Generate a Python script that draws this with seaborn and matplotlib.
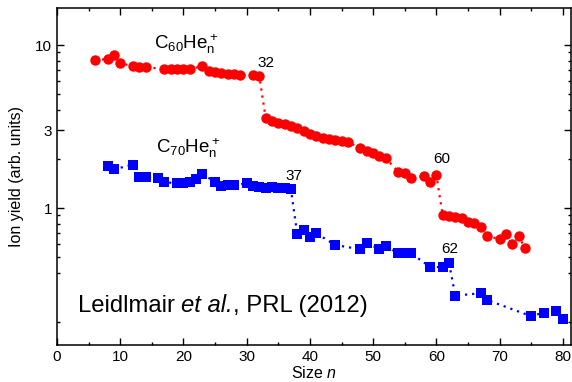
import numpy as np
import pandas as pd
import matplotlib
matplotlib.use("Agg")
import matplotlib.pyplot as plt
from matplotlib.ticker import FixedLocator, NullFormatter, FixedFormatter, MultipleLocator
import seaborn as sns

# C60He_n+ data
c60_n = [6, 8, 9, 10, 12, 13, 14, 17, 18, 19, 20, 21, 23, 24, 25, 26, 27, 28, 29, 31, 32,
         33, 34, 35, 36, 37, 38, 39, 40, 41, 42, 43, 44, 45, 46, 48, 49, 50, 51, 52,
         54, 55, 56, 58, 59, 60,
         61, 62, 63, 64, 65, 66, 67, 68, 70, 71, 72, 73, 74]
c60_y = [8.08, 8.20, 8.67, 7.74, 7.42, 7.32, 7.32, 7.11, 7.11, 7.11, 7.11, 7.11, 7.42, 6.91, 6.81, 6.72, 6.62, 6.62, 6.53, 6.53, 6.44,
         3.58, 3.42, 3.34, 3.28, 3.20, 3.08, 2.98, 2.84, 2.76, 2.69, 2.64, 2.61, 2.58, 2.55, 2.32, 2.25, 2.18, 2.08, 2.02,
         1.67, 1.63, 1.52, 1.57, 1.44, 1.59,
         0.906, 0.893, 0.884, 0.865, 0.824, 0.805, 0.768, 0.673, 0.645, 0.690, 0.599, 0.673, 0.571]

# C70He_n+ data
c70_n = [8, 9, 12, 13, 14, 16, 17, 19, 20, 21, 22, 23, 25, 26, 27, 28, 30, 31, 32, 33, 34, 35, 36, 37,
         38, 39, 40, 41, 44, 48, 49, 51, 52, 54, 55, 56, 59, 61, 62,
         63, 67, 68, 75, 77, 79, 80]
c70_y = [1.82, 1.73, 1.84, 1.56, 1.54, 1.52, 1.44, 1.42, 1.42, 1.44, 1.50, 1.61, 1.45, 1.36, 1.38, 1.38, 1.42, 1.36, 1.35, 1.32, 1.35, 1.32, 1.32, 1.30,
         0.692, 0.733, 0.667, 0.700, 0.593, 0.558, 0.612, 0.558, 0.585, 0.527, 0.527, 0.527, 0.436, 0.433, 0.462,
         0.290, 0.300, 0.273, 0.217, 0.228, 0.234, 0.208]

x_ticks = [0, 10, 20, 30, 40, 50, 60, 70, 80]
y_ticks = [1, 3, 10]
y_ticklabels = ["1", "3", "10"]

sns.set_style("ticks")
plt.rcParams["font.family"] = ["Liberation Sans", "DejaVu Sans"]
plt.rcParams["mathtext.fontset"] = "custom"
plt.rcParams["mathtext.rm"] = "Liberation Sans"
plt.rcParams["mathtext.it"] = "Liberation Sans:italic"
plt.rcParams["text.color"] = "black"
plt.rcParams["axes.labelcolor"] = "black"
plt.rcParams["xtick.color"] = "black"
plt.rcParams["ytick.color"] = "black"
plt.rcParams["xtick.labelcolor"] = "black"
plt.rcParams["ytick.labelcolor"] = "black"

df60 = pd.DataFrame({"n": c60_n, "y": c60_y})
df70 = pd.DataFrame({"n": c70_n, "y": c70_y})

fig = plt.figure(figsize=(5.72, 3.82), dpi=100)
ax = fig.add_axes([57/572, 1 - 345/382, (571 - 57)/572, (345 - 8)/382])

sns.lineplot(data=df60, x="n", y="y", ax=ax, color="#ff0000", linestyle=(0, (1, 2.2)),
             linewidth=1.6, marker="o", markersize=7.5, markeredgewidth=0, sort=False)
sns.lineplot(data=df70, x="n", y="y", ax=ax, color="#0000ff", linestyle=(0, (1, 2.2)),
             linewidth=1.6, marker="s", markersize=6.8, markeredgewidth=0, sort=False)

ax.set_yscale("log")
ax.set_xlim(0, 81.3)
ax.set_ylim(0.1444, 16.87)

ax.xaxis.set_major_locator(FixedLocator(x_ticks))
ax.xaxis.set_minor_locator(MultipleLocator(5))
ax.yaxis.set_major_locator(FixedLocator(y_ticks))
ax.yaxis.set_major_formatter(FixedFormatter(y_ticklabels))
minor_y = [v * d for d in (0.1, 1) for v in (2, 4, 5, 6, 7, 8, 9)] + [20]
ax.yaxis.set_minor_locator(FixedLocator(minor_y))
ax.yaxis.set_minor_formatter(NullFormatter())

ax.tick_params(which="both", direction="in", top=True, right=True, labelsize=11, width=1.0,
               color="black", labelcolor="black")
ax.tick_params(which="major", length=5)
ax.tick_params(which="minor", length=2.5)
for s in ax.spines.values():
    s.set_linewidth(1.1)
    s.set_color("black")

ax.set_xlabel("Size $n$", fontsize=11.5, labelpad=1, color="black")
ax.set_ylabel("Ion yield (arb. units)", fontsize=11.5, labelpad=8, color="black")

ax.text(15.3, 10.1, r"C$_{60}$He$_\mathrm{n}^+$", fontsize=13.5, ha="left", va="center")
ax.text(15.6, 2.33, r"C$_{70}$He$_\mathrm{n}^+$", fontsize=13.5, ha="left", va="center")
ax.text(33.0, 7.8, "32", fontsize=11, ha="center", va="center")
ax.text(37.5, 1.57, "37", fontsize=11, ha="center", va="center")
ax.text(60.8, 2.0, "60", fontsize=11, ha="center", va="center")
ax.text(62.2, 0.56, "62", fontsize=11, ha="center", va="center")

t1 = ax.text(3.3, 0.25, "Leidlmair ", fontsize=17.2, ha="left", va="center")
t2 = ax.annotate("et al.", xy=(1, 0), xycoords=t1, fontsize=17.2, fontstyle="italic",
                 ha="left", va="bottom")
t3 = ax.annotate(", PRL (2012)", xy=(1, 0), xycoords=t2, fontsize=17.2, ha="left", va="bottom")

ax.set_facecolor("white")
fig.patch.set_facecolor("white")
fig.savefig("out.png", dpi=100)
